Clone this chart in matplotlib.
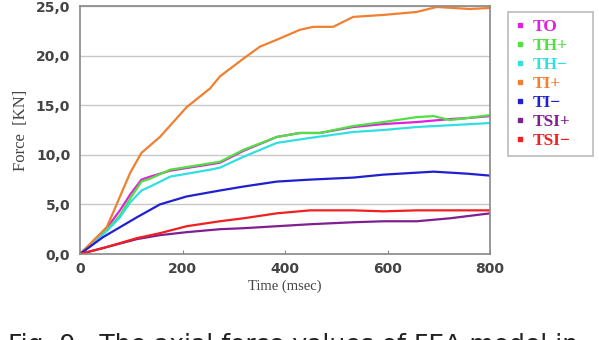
import matplotlib
matplotlib.use('Agg')
import matplotlib.pyplot as plt
from matplotlib.lines import Line2D
from matplotlib.ticker import FuncFormatter

# time (msec) and force (kN)
t_to = [0, 52, 78, 98, 120, 137, 176, 273, 319, 384, 429, 468, 533, 592, 657, 722, 755, 800]
to = [0, 2.6, 4.4, 6.0, 7.5, 7.8, 8.4, 9.2, 10.4, 11.8, 12.2, 12.2, 12.8, 13.1, 13.3, 13.6, 13.7, 13.9]

t_thp = [0, 52, 78, 98, 120, 137, 176, 273, 319, 384, 429, 468, 533, 592, 657, 690, 722, 755, 800]
thp = [0, 2.4, 3.9, 5.6, 7.3, 7.6, 8.5, 9.3, 10.5, 11.8, 12.2, 12.2, 12.9, 13.3, 13.8, 13.9, 13.5, 13.7, 14.0]

t_thm = [0, 52, 78, 98, 120, 137, 176, 254, 273, 319, 384, 449, 533, 592, 657, 800]
thm = [0, 2.3, 3.7, 5.2, 6.4, 6.8, 7.8, 8.5, 8.7, 9.8, 11.2, 11.7, 12.3, 12.5, 12.8, 13.2]

t_tip = [0, 52, 64, 98, 120, 156, 208, 254, 273, 319, 351, 384, 429, 455, 494, 533, 592, 657, 696, 760, 800]
tip = [0, 2.7, 4.1, 8.2, 10.2, 11.8, 14.8, 16.7, 17.9, 19.7, 20.9, 21.6, 22.6, 22.9, 22.9, 23.9, 24.1, 24.4, 24.9, 24.7, 24.8]

t_tim = [0, 45, 111, 156, 208, 273, 319, 384, 449, 533, 592, 657, 690, 755, 800]
tim = [0, 1.7, 3.7, 5.0, 5.8, 6.4, 6.8, 7.3, 7.5, 7.7, 8.0, 8.2, 8.3, 8.1, 7.9]

t_tsip = [0, 45, 111, 156, 208, 273, 319, 384, 449, 533, 592, 657, 722, 800]
tsip = [0, 0.6, 1.5, 1.9, 2.2, 2.5, 2.6, 2.8, 3.0, 3.2, 3.3, 3.3, 3.6, 4.1]

t_tsim = [0, 45, 111, 156, 208, 273, 319, 384, 449, 533, 592, 657, 800]
tsim = [0, 0.6, 1.6, 2.1, 2.8, 3.3, 3.6, 4.1, 4.4, 4.4, 4.3, 4.4, 4.4]

labels = ['TO', 'TH+', 'TH-', 'TI+', 'TI-', 'TSI+', 'TSI-']
colors = ['#e020e0', '#50e040', '#30e0e0', '#f08030', '#2020d0', '#802090', '#f02020']

series = [(t_to, to), (t_thp, thp), (t_thm, thm), (t_tip, tip),
          (t_tim, tim), (t_tsip, tsip), (t_tsim, tsim)]

fig = plt.figure(figsize=(5.99, 3.40), dpi=100)
ax = fig.add_axes([80/599, 86/340, 410/599, 248/340])

for (x, y), c in zip(series, colors):
    ax.plot(x, y, color=c, lw=1.6)

ax.set_xlim(0, 800)
ax.set_ylim(0, 25)
ax.set_xticks([0, 200, 400, 600, 800])
ax.set_yticks([0, 5, 10, 15, 20, 25])
ax.yaxis.set_major_formatter(FuncFormatter(lambda v, p: f'{v:.1f}'.replace('.', ',')))
ax.grid(axis='y', color='#c8c8c8', lw=1)
ax.set_axisbelow(True)
ax.tick_params(axis='x', direction='in', length=3, color='#888888', labelsize=10, pad=6)
ax.tick_params(axis='y', length=0, labelsize=10, pad=7)
for lab in ax.get_xticklabels() + ax.get_yticklabels():
    lab.set_fontweight('bold')
    lab.set_color('#444444')
for s in ax.spines.values():
    s.set_color('#888888')
    s.set_linewidth(1.2)

ax.set_xlabel('Time (msec)', family='Liberation Serif', fontsize=10.5, color='#444444', labelpad=2)
ax.set_ylabel('Force  [KN]', family='Liberation Serif', fontsize=12, color='#444444', labelpad=5)

handles = [Line2D([], [], ls='none', marker='s', ms=2.8, color=c) for c in colors]
leg_labels = [l.replace('-', '\u2212') for l in labels]
leg = fig.legend(handles, leg_labels, loc='upper left',
                 bbox_to_anchor=(508/599, 1 - 155/340, 85/599, 143/340), mode='expand',
                 borderaxespad=0, frameon=True, fancybox=False, edgecolor='#aaaaaa',
                 handlelength=0.6, handletextpad=0.4, labelspacing=0.16, borderpad=0.4,
                 prop={'family': 'Liberation Serif', 'weight': 'bold', 'size': 12.5})
leg.get_frame().set_linewidth(1.2)
for txt, c in zip(leg.get_texts(), colors):
    txt.set_color(c)

fig.text(8/599, -0.034, 'Fig. 9.  The axial force values of FEA model in', fontsize=18,
         color='#222222', ha='left', va='baseline')

fig.savefig('out.png', dpi=100)
